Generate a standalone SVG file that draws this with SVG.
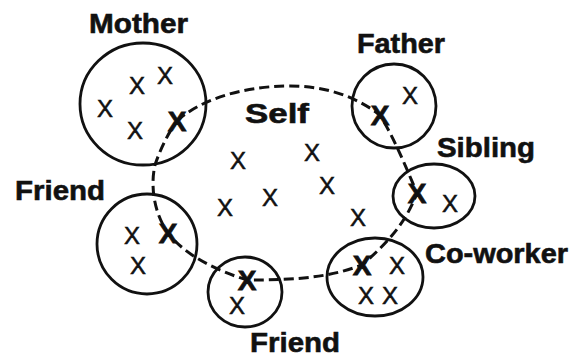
<svg xmlns="http://www.w3.org/2000/svg" width="574" height="358" viewBox="0 0 574 358">
<style>
.ring{fill:none;stroke:#111;stroke-width:2.8}
.lbl{font-family:"Liberation Sans",Arial,sans-serif;font-weight:bold;font-size:28px;fill:#111;stroke:#111;stroke-width:0.6}
.x{font-family:"Liberation Sans",Arial,sans-serif;font-size:24px;fill:#111;stroke:#111;stroke-width:0.5;text-anchor:middle}
.xb{font-family:"Liberation Sans",Arial,sans-serif;font-weight:bold;font-size:28px;fill:#111;stroke:#111;stroke-width:0.8;text-anchor:middle}
.dash{fill:none;stroke:#111;stroke-width:3;stroke-dasharray:10 5}
</style>
<rect width="574" height="358" fill="#fff"/>
<g id="connectors">
<path class="dash" d="M 177,121 C 195,104 235,86 290,86 C 325,86 355,96 380,115 C 395,140 405,165 417,193 C 405,225 385,245 362,265 C 330,277 300,280 247,280 C 215,270 185,255 168,233 C 152,210 151,182 155,165 C 160,150 168,133 177,121 Z"/>
</g>
<g id="self">
<text class="lbl" x="245" y="123" font-size="32" textLength="64" lengthAdjust="spacingAndGlyphs">Self</text>
<text class="x" x="238" y="169">X</text>
<text class="x" x="312" y="161">X</text>
<text class="x" x="327" y="194">X</text>
<text class="x" x="270" y="206">X</text>
<text class="x" x="225" y="216">X</text>
<text class="x" x="358" y="226">X</text>
</g>
<g id="mother">
<ellipse class="ring" cx="143" cy="104" rx="63" ry="61"/>
<text class="lbl" x="89" y="33" textLength="99" lengthAdjust="spacingAndGlyphs">Mother</text>
<text class="x" x="105" y="117">X</text>
<text class="x" x="137" y="94">X</text>
<text class="x" x="165" y="84">X</text>
<text class="x" x="135" y="139">X</text>
<text class="xb" x="177" y="131">X</text>
</g>
<g id="father">
<circle class="ring" cx="394" cy="106" r="42"/>
<text class="lbl" x="357" y="53" textLength="88" lengthAdjust="spacingAndGlyphs">Father</text>
<text class="xb" x="380" y="125">X</text>
<text class="x" x="410" y="104">X</text>
</g>
<g id="sibling">
<ellipse class="ring" cx="434" cy="196" rx="41" ry="32"/>
<text class="lbl" x="437" y="157" textLength="98" lengthAdjust="spacingAndGlyphs">Sibling</text>
<text class="xb" x="417" y="203">X</text>
<text class="x" x="450" y="212">X</text>
</g>
<g id="coworker">
<ellipse class="ring" cx="375" cy="277" rx="48" ry="39"/>
<text class="lbl" x="425" y="263" textLength="143" lengthAdjust="spacingAndGlyphs">Co-worker</text>
<text class="xb" x="362" y="275">X</text>
<text class="x" x="397" y="274">X</text>
<text class="x" x="366" y="304">X</text>
<text class="x" x="390" y="304">X</text>
</g>
<g id="friend1">
<circle class="ring" cx="147" cy="244" r="50"/>
<text class="lbl" x="15" y="200" textLength="90" lengthAdjust="spacingAndGlyphs">Friend</text>
<text class="xb" x="168" y="243">X</text>
<text class="x" x="132" y="244">X</text>
<text class="x" x="138" y="274">X</text>
</g>
<g id="friend2">
<ellipse class="ring" cx="245" cy="292" rx="37" ry="35"/>
<text class="lbl" x="250" y="352" textLength="90" lengthAdjust="spacingAndGlyphs">Friend</text>
<text class="xb" x="247" y="290">X</text>
<text class="x" x="237" y="314">X</text>
</g>
</svg>
